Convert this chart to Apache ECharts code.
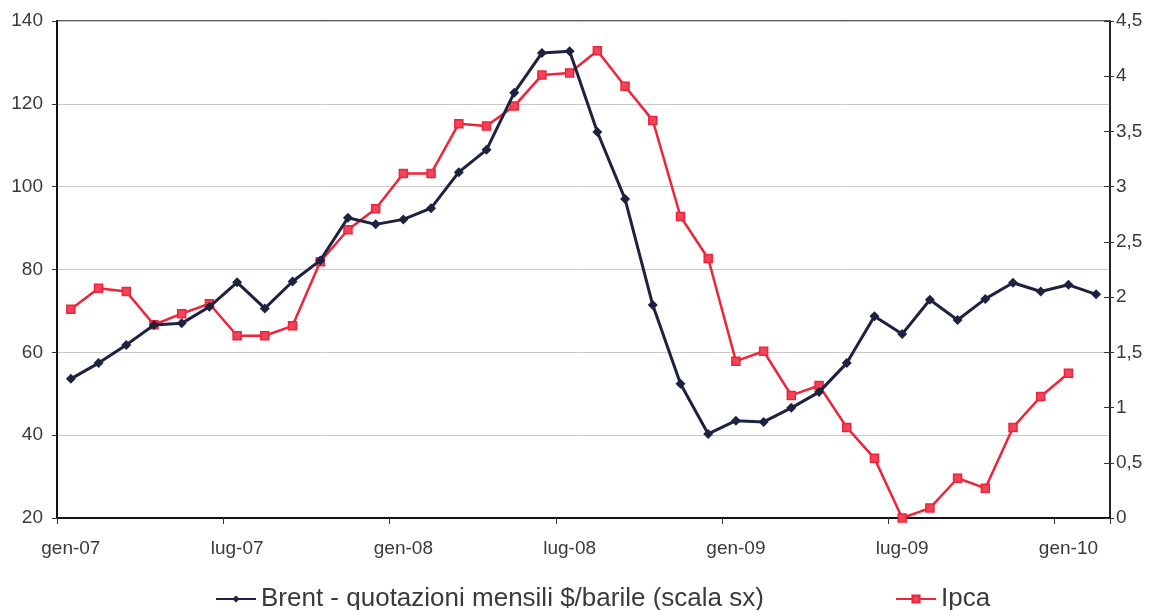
<!DOCTYPE html>
<html>
<head>
<meta charset="utf-8">
<script src="https://cdn.jsdelivr.net/npm/echarts@6/dist/echarts.min.js"></script>
<style>
  html, body { margin: 0; padding: 0; background: #fff; }
  #chart { width: 1155px; height: 610px; }
</style>
</head>
<body>
<div id="chart"></div>
<script>
// Monthly categories, gen-07 .. feb-10
const months = [
  'gen-07','feb-07','mar-07','apr-07','mag-07','giu-07','lug-07','ago-07','set-07','ott-07','nov-07','dic-07',
  'gen-08','feb-08','mar-08','apr-08','mag-08','giu-08','lug-08','ago-08','set-08','ott-08','nov-08','dic-08',
  'gen-09','feb-09','mar-09','apr-09','mag-09','giu-09','lug-09','ago-09','set-09','ott-09','nov-09','dic-09',
  'gen-10','feb-10'
];

// Brent, monthly quotes in $/barrel (left scale)
const brent = [
  53.6, 57.4, 61.8, 66.6, 67.0, 71.0, 76.9, 70.6, 77.1, 82.2, 92.5, 90.9,
  92.1, 94.8, 103.5, 108.9, 122.7, 132.3, 132.7, 113.2, 97.0, 71.4, 52.4, 40.3,
  43.5, 43.2, 46.6, 50.4, 57.4, 68.7, 64.4, 72.7, 67.8, 72.9, 76.8, 74.7,
  76.3, 74.0
];

// Ipca, annual % change (right scale); no value yet for feb-10
const ipca = [
  1.89, 2.08, 2.05, 1.75, 1.85, 1.94, 1.65, 1.65, 1.74, 2.32, 2.61, 2.80,
  3.12, 3.12, 3.57, 3.55, 3.73, 4.01, 4.03, 4.23, 3.91, 3.60, 2.73, 2.35,
  1.42, 1.51, 1.11, 1.20, 0.82, 0.54, 0.0, 0.09, 0.36, 0.27, 0.82, 1.10,
  1.31, null
];

const leftTicks = { min: 20, max: 140, interval: 20 };
const rightTicks = { min: 0, max: 4.5, interval: 0.5 };

const BRENT_NAME = 'Brent - quotazioni mensili $/barile (scala sx)';
const IPCA_NAME = 'Ipca';

const navy = '#1c2240';
const red = '#ee2438';
const textColor = '#3a3a3a';
const font = 'Liberation Sans, Arial, sans-serif';

const chart = echarts.init(document.getElementById('chart'), null, { renderer: 'canvas' });

const legendBase = {
  top: 581,
  itemWidth: 40, itemHeight: 9, itemGap: 6,
  textStyle: { fontSize: 26, color: textColor, fontFamily: font }
};

chart.setOption({
  backgroundColor: '#ffffff',
  animation: false,
  textStyle: { fontFamily: font },
  grid: {
    left: 57, right: 45, top: 21, bottom: 92,
    show: true, borderColor: '#222', borderWidth: 1.5, backgroundColor: 'transparent'
  },
  legend: [
    Object.assign({ data: [BRENT_NAME], left: 210 }, legendBase),
    Object.assign({ data: [IPCA_NAME], left: 890 }, legendBase)
  ],
  xAxis: {
    type: 'category',
    data: months,
    boundaryGap: true,
    axisLine: { lineStyle: { color: '#111', width: 2 } },
    axisTick: { show: true, interval: 5, length: 6, inside: false, lineStyle: { color: '#333', width: 1 } },
    axisLabel: { interval: 5, fontSize: 19, color: textColor, margin: 21, fontFamily: font },
    splitLine: { show: false }
  },
  yAxis: [
    {
      type: 'value', position: 'left',
      min: leftTicks.min, max: leftTicks.max, interval: leftTicks.interval,
      axisLine: { show: true, lineStyle: { color: '#111', width: 2 } },
      axisTick: { show: true, length: 5, lineStyle: { color: '#333' } },
      axisLabel: { fontSize: 19, color: textColor, margin: 14, fontFamily: font },
      splitLine: { show: true, lineStyle: { color: '#c9c9c9', width: 1 } }
    },
    {
      type: 'value', position: 'right',
      min: rightTicks.min, max: rightTicks.max, interval: rightTicks.interval,
      axisLine: { show: true, lineStyle: { color: '#111', width: 1.5 } },
      axisTick: { show: true, length: 4, lineStyle: { color: '#333' } },
      axisLabel: {
        fontSize: 19, color: textColor, margin: 6, fontFamily: font,
        formatter: v => String(v).replace('.', ',')
      },
      splitLine: { show: false }
    },
    {
      // inner half of the right-hand ticks, so they cross the axis line
      type: 'value', position: 'right',
      min: rightTicks.min, max: rightTicks.max, interval: rightTicks.interval,
      axisLine: { show: false },
      axisTick: { show: true, inside: true, length: 6, lineStyle: { color: '#333' } },
      axisLabel: { show: false },
      splitLine: { show: false }
    }
  ],
  series: [
    {
      name: BRENT_NAME,
      type: 'line',
      yAxisIndex: 0,
      data: brent,
      symbol: 'diamond',
      symbolSize: 10,
      lineStyle: { color: navy, width: 3 },
      itemStyle: { color: navy, borderColor: navy, borderWidth: 0 },
      z: 3
    },
    {
      name: IPCA_NAME,
      type: 'line',
      yAxisIndex: 1,
      data: ipca,
      symbol: 'rect',
      symbolSize: 8,
      connectNulls: false,
      lineStyle: { color: red, width: 2.5 },
      itemStyle: { color: '#f0445a', borderColor: red, borderWidth: 1.5 },
      z: 2
    }
  ]
});
</script>
</body>
</html>
